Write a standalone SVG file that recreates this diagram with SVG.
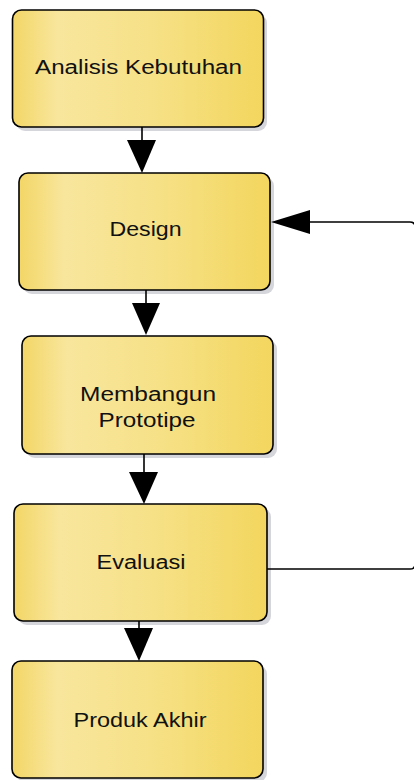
<svg xmlns="http://www.w3.org/2000/svg" width="414" height="780" viewBox="0 0 414 780">
<defs>
<linearGradient id="fill" x1="0" y1="0" x2="1" y2="0">
<stop offset="0" stop-color="#F3D666"/>
<stop offset="0.18" stop-color="#F8E69D"/>
<stop offset="0.55" stop-color="#F6E187"/>
<stop offset="1" stop-color="#F3D65E"/>
</linearGradient>
<style>
.box{fill:url(#fill);stroke:#000;stroke-width:1.6}
.shadow{fill:#D5D5DC}
.lbl{font-family:"Liberation Sans",Arial,sans-serif;font-size:19.5px;fill:#111}
.ln{fill:none;stroke:#000;stroke-width:1.6}
.hd{fill:#000}
</style>
</defs>
<rect width="414" height="780" fill="#fff"/>
<g id="analisis">
<rect class="shadow" x="16" y="14" width="251" height="117" rx="9"/>
<rect class="box" x="12.5" y="10" width="251" height="117" rx="9"/>
<text class="lbl" x="35" y="74" textLength="207" lengthAdjust="spacingAndGlyphs">Analisis Kebutuhan</text>
</g>
<g id="design">
<rect class="shadow" x="23" y="177" width="251" height="117" rx="9"/>
<rect class="box" x="19" y="173" width="251" height="117" rx="9"/>
<text class="lbl" x="109.5" y="236" textLength="72" lengthAdjust="spacingAndGlyphs">Design</text>
</g>
<g id="membangun">
<rect class="shadow" x="26" y="340" width="251" height="118" rx="9"/>
<rect class="box" x="22" y="336" width="251" height="118" rx="9"/>
<text class="lbl" x="80" y="401" textLength="136" lengthAdjust="spacingAndGlyphs">Membangun</text>
<text class="lbl" x="98.5" y="427" textLength="97" lengthAdjust="spacingAndGlyphs">Prototipe</text>
</g>
<g id="evaluasi">
<rect class="shadow" x="18" y="508" width="253" height="117" rx="9"/>
<rect class="box" x="14" y="504" width="253" height="117" rx="9"/>
<text class="lbl" x="96.5" y="569" textLength="89" lengthAdjust="spacingAndGlyphs">Evaluasi</text>
</g>
<g id="produk">
<rect class="shadow" x="16" y="665" width="251" height="117" rx="9"/>
<rect class="box" x="12" y="661" width="251" height="117" rx="9"/>
<text class="lbl" x="73.5" y="727" textLength="133" lengthAdjust="spacingAndGlyphs">Produk Akhir</text>
</g>
<g id="connectors">
<line class="ln" x1="142" y1="127" x2="142" y2="141"/>
<polygon class="hd" points="127,140 156,140 142,173"/>
<line class="ln" x1="146" y1="290" x2="146" y2="304"/>
<polygon class="hd" points="132,303 160,303 146,335"/>
<line class="ln" x1="144" y1="454" x2="144" y2="473"/>
<polygon class="hd" points="129,472 158,472 144,504"/>
<line class="ln" x1="139" y1="621" x2="139" y2="629"/>
<polygon class="hd" points="124,628 153,628 139,661"/>
<path class="ln" d="M267,569 H410 Q415,569 415,564 V227 Q415,222 410,222 H309"/>
<polygon class="hd" points="310,210 310,234 271,222"/>
</g>
</svg>
